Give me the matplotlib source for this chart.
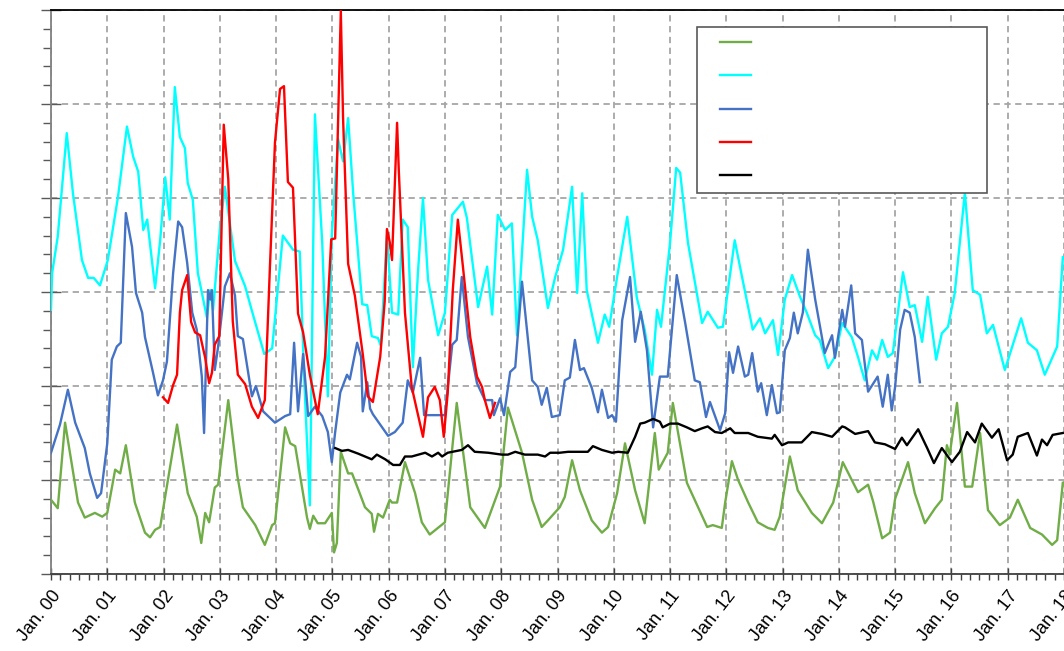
import pandas as pd
import matplotlib
matplotlib.use("Agg")
import matplotlib.pyplot as plt
import matplotlib.dates as mdates
from matplotlib.ticker import MultipleLocator
from matplotlib.legend_handler import HandlerLine2D

plt.rcParams['font.family'] = ['Liberation Sans', 'DejaVu Sans']

# ---- data: (years since Jan 2000, value) ----
green = [(0.00,7.9),(0.12,7.0),(0.25,16.1),(0.48,7.6),(0.60,6.0),(0.78,6.5),(0.91,6.1),(1.00,6.5),(1.14,11.1),(1.23,10.7),(1.33,13.7),(1.49,7.6),(1.67,4.4),(1.76,3.9),(1.85,4.7),(1.94,5.0),(2.24,15.9),(2.43,8.6),(2.59,6.1),(2.67,3.3),(2.74,6.5),(2.81,5.5),(2.91,9.2),(2.97,9.5),(3.15,18.5),(3.31,10.5),(3.41,7.1),(3.63,5.2),(3.80,3.1),(3.93,5.2),(3.98,5.4),(4.16,15.6),(4.25,13.9),(4.34,13.6),(4.55,6.0),(4.60,4.8),(4.66,6.2),(4.74,5.4),(4.87,5.4),(4.99,6.5),(5.03,2.3),(5.08,3.3),(5.15,13.0),(5.28,10.7),(5.35,10.7),(5.46,9.0),(5.58,7.1),(5.70,6.4),(5.74,4.5),(5.81,6.4),(5.90,6.0),(6.02,7.9),(6.06,7.6),(6.15,7.6),(6.29,11.9),(6.47,8.6),(6.59,5.5),(6.73,4.2),(7.00,5.5),(7.21,18.2),(7.45,7.1),(7.71,4.9),(7.98,9.3),(8.12,17.7),(8.37,12.9),(8.55,7.9),(8.72,5.0),(8.83,5.7),(9.04,7.1),(9.13,8.2),(9.26,12.1),(9.40,8.9),(9.61,5.7),(9.79,4.4),(9.90,5.0),(10.06,8.6),(10.20,13.9),(10.38,8.9),(10.55,5.4),(10.73,15.0),(10.80,11.1),(10.96,12.9),(11.05,18.2),(11.30,9.7),(11.66,5.0),(11.76,5.2),(11.92,4.9),(11.98,7.6),(12.10,12.0),(12.21,10.0),(12.39,7.6),(12.56,5.5),(12.74,4.9),(12.86,4.7),(12.95,6.1),(13.13,12.5),(13.27,8.9),(13.52,6.5),(13.70,5.4),(13.90,7.6),(14.07,11.9),(14.34,8.7),(14.52,9.5),(14.61,7.7),(14.77,3.8),(14.91,4.4),(15.00,8.0),(15.09,9.5),(15.23,11.9),(15.35,8.6),(15.53,5.4),(15.71,7.0),(15.83,7.9),(15.92,13.7),(15.97,12.7),(16.10,18.2),(16.24,9.3),(16.37,9.3),(16.51,15.0),(16.65,6.8),(16.86,5.2),(17.04,6.0),(17.18,7.9),(17.40,4.9),(17.61,4.2),(17.79,3.1),(17.88,3.6),(17.98,9.7)]

cyan = [(0.00,28.1),(0.02,32.0),(0.12,35.9),(0.28,46.9),(0.39,40.5),(0.55,33.4),(0.66,31.5),(0.76,31.5),(0.87,30.7),(1.01,33.4),(1.19,40.1),(1.35,47.6),(1.46,44.4),(1.55,42.8),(1.64,36.6),(1.71,37.7),(1.85,30.4),(1.94,35.5),(2.03,42.2),(2.11,37.7),(2.20,51.8),(2.29,46.5),(2.38,45.3),(2.43,41.6),(2.52,39.8),(2.61,32.0),(2.77,27.3),(2.83,30.2),(2.88,28.1),(3.00,36.6),(3.09,41.2),(3.27,33.3),(3.45,30.6),(3.57,28.0),(3.68,25.7),(3.79,23.4),(3.93,24.0),(4.12,36.0),(4.30,34.5),(4.42,34.3),(4.50,20.7),(4.60,7.3),(4.69,48.9),(4.82,35.2),(4.92,18.9),(4.99,36.0),(5.10,46.3),(5.19,43.9),(5.28,48.5),(5.37,40.5),(5.53,28.7),(5.62,28.6),(5.70,25.3),(5.81,25.1),(5.86,24.3),(5.97,36.0),(6.06,27.8),(6.17,27.6),(6.25,37.7),(6.34,36.9),(6.43,22.0),(6.52,32.0),(6.61,40.0),(6.70,31.3),(6.88,25.4),(7.00,27.8),(7.13,38.2),(7.32,39.6),(7.39,37.9),(7.59,28.4),(7.75,32.7),(7.84,27.6),(7.94,38.2),(8.07,36.6),(8.19,37.3),(8.28,25.4),(8.46,43.0),(8.55,38.0),(8.65,35.5),(8.83,28.3),(8.96,31.6),(9.10,34.5),(9.26,41.2),(9.35,29.9),(9.44,40.5),(9.52,30.2),(9.72,24.6),(9.84,27.6),(9.92,26.3),(10.06,31.6),(10.24,38.0),(10.41,29.4),(10.55,26.0),(10.68,21.2),(10.77,28.1),(10.84,26.3),(11.00,35.2),(11.11,43.2),(11.18,42.7),(11.32,35.2),(11.57,26.7),(11.67,27.9),(11.85,26.2),(11.94,26.3),(12.15,35.5),(12.28,31.6),(12.47,26.0),(12.60,27.2),(12.69,25.6),(12.83,27.0),(12.92,23.3),(13.04,29.2),(13.17,31.8),(13.31,29.5),(13.43,27.8),(13.58,25.4),(13.66,24.9),(13.81,21.9),(13.93,23.1),(14.06,26.7),(14.23,25.2),(14.34,23.1),(14.46,20.6),(14.59,23.8),(14.68,22.8),(14.77,24.9),(14.87,23.1),(14.96,23.5),(15.14,32.1),(15.26,28.4),(15.35,28.6),(15.48,24.7),(15.58,29.5),(15.73,22.8),(15.83,25.6),(15.94,26.3),(16.06,29.9),(16.24,40.6),(16.38,30.2),(16.51,29.7),(16.63,25.6),(16.74,26.5),(16.95,21.7),(17.24,27.2),(17.36,24.6),(17.52,23.8),(17.66,21.2),(17.88,24.2),(17.98,33.7)]

blue = [(0.00,12.9),(0.16,15.9),(0.30,19.6),(0.43,16.1),(0.60,13.4),(0.69,10.7),(0.82,8.1),(0.89,8.6),(1.00,13.9),(1.08,22.8),(1.17,24.2),(1.24,24.6),(1.33,38.4),(1.44,34.8),(1.51,29.9),(1.62,27.8),(1.67,25.2),(1.81,21.5),(1.90,19.0),(1.99,20.6),(2.06,22.6),(2.17,32.0),(2.26,37.5),(2.33,36.9),(2.42,33.1),(2.51,27.8),(2.59,26.0),(2.68,21.0),(2.72,15.0),(2.79,30.2),(2.83,29.2),(2.86,30.2),(2.91,21.7),(2.97,24.2),(3.09,30.6),(3.18,32.0),(3.27,29.6),(3.32,25.3),(3.41,25.0),(3.57,18.9),(3.64,20.0),(3.77,17.3),(3.98,16.1),(4.16,16.8),(4.25,17.0),(4.32,24.6),(4.39,17.3),(4.48,23.4),(4.57,16.8),(4.69,17.8),(4.82,16.8),(4.92,15.1),(4.99,11.9),(5.05,15.1),(5.14,19.3),(5.26,21.2),(5.31,20.7),(5.44,24.6),(5.51,23.1),(5.54,17.3),(5.62,20.4),(5.67,17.6),(5.72,17.0),(5.85,15.9),(5.99,14.7),(6.11,15.1),(6.25,16.1),(6.34,20.6),(6.43,19.3),(6.56,23.0),(6.63,16.9),(6.77,16.9),(7.00,16.9),(7.13,24.4),(7.21,24.9),(7.30,31.6),(7.41,25.2),(7.57,20.3),(7.71,18.5),(7.84,18.5),(7.87,16.9),(7.98,18.7),(8.05,16.9),(8.16,21.5),(8.25,22.0),(8.37,31.1),(8.55,20.6),(8.65,19.9),(8.72,18.0),(8.81,19.8),(8.90,16.7),(9.04,16.9),(9.13,20.6),(9.22,20.9),(9.31,24.9),(9.40,21.7),(9.47,21.9),(9.61,19.8),(9.72,17.2),(9.79,19.6),(9.90,16.6),(9.97,16.9),(10.04,16.2),(10.15,27.0),(10.29,31.6),(10.38,24.7),(10.48,27.9),(10.59,23.8),(10.70,15.6),(10.82,21.0),(10.96,21.0),(11.12,31.8),(11.27,26.7),(11.44,20.6),(11.53,20.4),(11.64,16.7),(11.71,18.3),(11.89,15.3),(11.98,17.1),(12.05,23.6),(12.12,21.4),(12.21,24.2),(12.33,21.0),(12.39,21.2),(12.46,23.5),(12.56,19.4),(12.62,20.3),(12.72,16.9),(12.81,20.1),(12.90,17.1),(12.95,17.2),(13.04,23.8),(13.13,25.1),(13.20,27.8),(13.27,25.6),(13.36,27.8),(13.45,34.5),(13.58,29.2),(13.75,23.5),(13.88,25.4),(13.93,23.0),(14.06,28.1),(14.11,26.3),(14.22,30.7),(14.29,25.6),(14.41,24.9),(14.52,19.4),(14.69,21.0),(14.78,17.8),(14.87,21.2),(14.94,17.4),(15.00,19.9),(15.09,26.0),(15.17,28.1),(15.26,27.8),(15.35,25.2),(15.44,20.4)]

red = [(1.99,18.8),(2.08,18.2),(2.17,20.1),(2.24,21.2),(2.29,27.8),(2.33,30.2),(2.42,31.8),(2.49,26.8),(2.56,25.7),(2.65,25.4),(2.74,23.0),(2.81,20.3),(2.86,21.4),(2.91,24.4),(2.99,25.3),(3.07,47.8),(3.15,42.0),(3.23,26.9),(3.32,21.2),(3.45,20.2),(3.57,17.8),(3.68,16.6),(3.80,18.5),(3.89,32.6),(3.98,45.9),(4.07,51.6),(4.14,51.9),(4.21,41.7),(4.30,41.1),(4.39,27.7),(4.48,25.7),(4.60,21.2),(4.74,17.0),(4.87,23.1),(4.98,35.6),(5.05,35.7),(5.10,47.8),(5.15,59.9),(5.19,48.5),(5.28,33.0),(5.40,29.6),(5.54,23.4),(5.63,18.9),(5.72,18.3),(5.85,23.1),(5.93,29.0),(5.97,36.7),(6.02,35.3),(6.06,33.4),(6.15,48.0),(6.18,43.0),(6.29,27.8),(6.41,19.9),(6.50,17.5),(6.61,14.6),(6.70,18.8),(6.82,19.9),(6.91,18.5),(6.98,14.6),(7.05,19.3),(7.14,30.2),(7.23,37.7),(7.32,32.7),(7.45,25.2),(7.57,21.0),(7.66,19.9),(7.71,18.5),(7.80,16.6),(7.89,18.2)]

black = [(5.05,13.4),(5.17,13.1),(5.28,13.2),(5.46,12.8),(5.70,12.2),(5.79,12.7),(5.94,12.2),(6.08,11.6),(6.20,11.6),(6.29,12.5),(6.41,12.5),(6.65,12.9),(6.77,12.5),(6.88,12.9),(6.95,12.5),(7.05,12.9),(7.30,13.2),(7.41,13.7),(7.53,13.0),(7.77,12.9),(8.01,12.7),(8.12,12.7),(8.25,13.0),(8.42,12.7),(8.65,12.7),(8.78,12.5),(8.87,12.9),(9.04,12.9),(9.19,13.0),(9.54,13.0),(9.63,13.6),(9.79,13.2),(9.97,12.9),(10.08,13.0),(10.25,12.9),(10.38,14.6),(10.47,16.0),(10.55,16.1),(10.70,16.5),(10.82,16.2),(10.87,15.6),(11.00,16.0),(11.14,16.0),(11.30,15.6),(11.44,15.2),(11.57,15.5),(11.67,15.7),(11.80,15.1),(11.92,15.0),(12.07,15.5),(12.15,15.0),(12.39,15.0),(12.56,14.6),(12.81,14.4),(12.86,14.8),(12.99,13.7),(13.10,14.0),(13.34,14.0),(13.52,15.1),(13.70,14.9),(13.88,14.6),(14.06,15.7),(14.11,15.6),(14.29,14.9),(14.52,15.2),(14.64,14.0),(14.82,13.8),(15.00,13.3),(15.12,14.5),(15.21,13.7),(15.41,15.4),(15.57,13.4),(15.69,11.8),(15.83,13.4),(16.01,11.9),(16.15,13.0),(16.28,15.1),(16.42,14.0),(16.54,16.0),(16.72,14.5),(16.84,15.4),(16.99,12.1),(17.09,12.7),(17.18,14.6),(17.36,15.0),(17.52,12.6),(17.61,14.3),(17.70,13.7),(17.80,14.8),(17.98,15.0)]

series_names = [' ', ' ', ' ', ' ', ' ']
series_colors = ['#70AD47', '#00FFFF', '#4472C4', '#FF0000', '#000000']
series_data = [green, cyan, blue, red, black]

START = pd.Timestamp('2000-01-01')


def to_xy(pairs):
    xs = [START + pd.Timedelta(days=t * 365.25) for t, _ in pairs]
    ys = [v for _, v in pairs]
    return xs, ys


fig = plt.figure(figsize=(10.64, 6.51), dpi=100)
ax = fig.add_axes([51 / 1064, 1 - 574 / 651, 1013 / 1064, 564 / 651])

handles = []
for name, col, data in zip(series_names, series_colors, series_data):
    xs, ys = to_xy(data)
    ln, = ax.plot(xs, ys, color=col, lw=1.7, label=name, zorder=3,
                  solid_joinstyle='round')
    handles.append(ln)

ax.set_xlim(pd.Timestamp('2000-01-01'), pd.Timestamp('2018-01-01'))
ax.set_ylim(0, 60)
ax.yaxis.set_major_locator(MultipleLocator(10))
ax.yaxis.set_minor_locator(MultipleLocator(2))
ax.xaxis.set_major_locator(mdates.YearLocator())
ax.xaxis.set_minor_locator(mdates.MonthLocator(bymonth=[3, 5, 7, 9, 11]))
ax.xaxis.set_major_formatter(mdates.DateFormatter('Jan. %y'))

ax.grid(True, which='major', color='#A6A6A6', linestyle=(0, (3.5, 2.5)),
        linewidth=1.3, zorder=1)
ax.set_axisbelow(True)

ax.tick_params(axis='y', which='major', direction='inout', length=14,
               width=1.0, color='#595959', labelleft=False)
ax.tick_params(axis='y', which='minor', direction='out', length=6,
               width=1.0, color='#595959')
ax.tick_params(axis='x', which='major', direction='inout', length=8,
               width=1.0, color='#404040', labelsize=13, pad=6)
ax.tick_params(axis='x', which='minor', direction='out', length=4,
               width=1.0, color='#404040')
for lab in ax.get_xticklabels():
    lab.set_rotation(52)
    lab.set_ha('right')
    lab.set_va('top')
    lab.set_rotation_mode('anchor')

ax.spines['right'].set_visible(False)
ax.spines['top'].set_color('#000000')
ax.spines['top'].set_linewidth(1.3)
ax.spines['left'].set_color('#808080')
ax.spines['left'].set_linewidth(1.3)
ax.spines['bottom'].set_color('#404040')
ax.spines['bottom'].set_linewidth(1.3)

leg = ax.legend(handles, series_names, loc='upper left',
                bbox_to_anchor=(0.638, 0.679, 0.286, 0.291), mode='expand',
                fontsize=12, handlelength=2.7, handletextpad=0.5,
                borderpad=0.55, labelspacing=1.09, borderaxespad=0,
                frameon=True, fancybox=False, framealpha=1,
                edgecolor='#595959',
                handler_map={plt.Line2D: HandlerLine2D(xpad=0.84)})
leg.get_frame().set_linewidth(1.2)
leg.set_zorder(5)

fig.savefig('out.png', dpi=100)
